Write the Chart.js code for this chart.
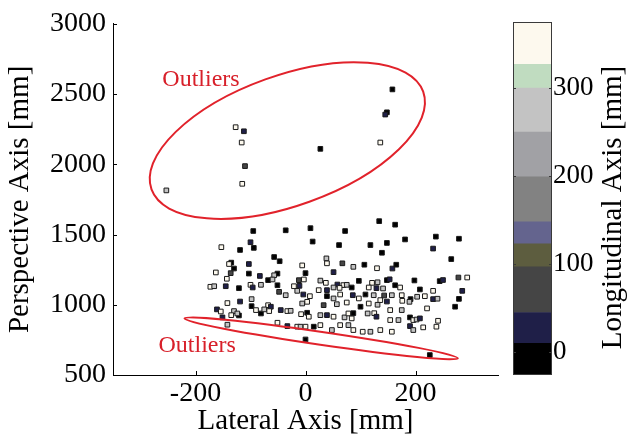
<!DOCTYPE html>
<html>
<head>
<meta charset="utf-8">
<script src="https://cdn.jsdelivr.net/npm/chart.js@4.4.0/dist/chart.umd.min.js"></script>
<style>
  body { margin: 0; background: #fff; }
  #wrap { position: relative; width: 629px; height: 441px; overflow: hidden; }
  #main { position: absolute; left: 0; top: 0; }
  #bar { position: absolute; left: 500px; top: 0; }
</style>
</head>
<body>
<div id="wrap">
  <canvas id="main" width="505" height="441"></canvas>
  <canvas id="bar" width="129" height="441"></canvas>
</div>
<script>
// measured points (lateral x, perspective y, longitudinal z) in mm
const lateral = [
  134, 163, -95, -36, 9, 72, 237, 279, 13, 61, 118, 148, 181, -153, -119, -100, -94, 139, 232, 265,
  -135, -139, -103, -57, -47, 38, 67, 39, 107, 87, 130, 158, 165, -130, -163, -136, -103, -83, -51, -57,
  -6, 0, 51, -143, -68, -60, -12, -3, 27, 37, 58, 69, 75, 97, 121, 131, 148, 153, 198, 244,
  250, 278, 294, -173, -166, -145, -121, -100, -96, -81, -51, -48, -21, -11, -15, 24, 39, 51, 62, 84,
  115, 129, 141, 163, 172, 208, 232, 285, -36, -4, 8, 39, 51, 63, 86, 97, 109, 124, 136, 143,
  157, 175, 191, 203, 217, 232, 240, 279, -142, -119, -98, -98, -68, -63, -6, 3, 33, 57, 75, 100,
  115, 131, 148, 176, 189, 221, 272, -161, -154, -130, -121, -135, -151, -124, -90, -81, -75, -66, -45, -33,
  -27, -8, 3, 6, 27, 39, 51, 71, 78, 87, 84, 113, 125, 129, 154, 175, 154, 169, 190, 196,
  202, 208, 241, -142, -51, -33, -15, -9, 0, 15, 27, 48, 63, 78, 87, 104, 118, 136, 157, 190,
  196, 214, 238, 0, 226,
  -253, -127, -112, -116, -110, -115, 27, 158, 148, 145, 136
];
const perspective = [
  1595, 1570, 1525, 1530, 1545, 1525, 1485, 1470, 1450, 1425, 1425, 1440, 1465, 1410, 1390, 1445, 1405, 1370, 1400, 1325,
  1300, 1290, 1290, 1340, 1310, 1330, 1295, 1295, 1285, 1270, 1260, 1258, 1285, 1258, 1230, 1225, 1222, 1205, 1222, 1210,
  1280, 1225, 1232, 1185, 1175, 1180, 1175, 1180, 1172, 1156, 1144, 1140, 1142, 1170, 1156, 1160, 1175, 1181, 1173, 1168,
  1176, 1194, 1194, 1128, 1132, 1132, 1118, 1142, 1123, 1142, 1139, 1092, 1132, 1135, 1099, 1104, 1104, 1123, 1120, 1123,
  1123, 1118, 1116, 1139, 1123, 1109, 1099, 1099, 1068, 1073, 1061, 1061, 1045, 1073, 1068, 1045, 1073, 1068, 1033, 1066,
  1068, 1068, 1040, 1057, 1061, 1040, 1043, 1042, 1012, 1023, 1040, 990, 997, 986, 1009, 1021, 997, 1004, 1016, 986,
  1009, 1000, 1023, 1028, 1021, 974, 986, 967, 952, 955, 924, 926, 910, 938, 962, 938, 967, 955, 962, 955,
  957, 933, 943, 915, 926, 926, 915, 910, 938, 940, 903, 938, 940, 915, 962, 962, 891, 891, 910, 891,
  895, 903, 886, 858, 872, 848, 844, 844, 844, 844, 855, 820, 855, 855, 820, 808, 808, 820, 808, 848,
  820, 839, 844, 753, 642,
  1814, 2264, 2235, 2155, 1987, 1861, 2110, 2533, 2370, 2354, 2155
];
const longitudinal = [
  5, 5, 5, 5, 5, 5, 5, 5, 5, 5, 5, 5, 5, 350, 5, 30, 5, 5, 30, 5,
  5, 350, 30, 5, 5, 280, 60, 350, 5, 280, 350, 30, 5, 5, 350, 60, 5, 30, 5, 280,
  350, 5, 30, 350, 5, 280, 60, 350, 280, 350, 30, 350, 280, 5, 350, 280, 5, 30, 5, 5,
  30, 60, 350, 350, 280, 30, 5, 350, 30, 280, 5, 60, 350, 30, 280, 350, 30, 280, 350, 5,
  350, 30, 280, 5, 350, 5, 350, 30, 280, 30, 350, 5, 280, 350, 30, 350, 5, 280, 350, 60,
  280, 350, 5, 280, 350, 30, 280, 5, 350, 30, 280, 5, 350, 30, 280, 350, 60, 280, 350, 5,
  350, 280, 30, 350, 280, 350, 5, 30, 350, 280, 5, 350, 30, 280, 350, 5, 280, 350, 30, 350,
  280, 350, 5, 350, 280, 30, 350, 280, 350, 5, 350, 280, 350, 30, 350, 280, 350, 280, 5, 350,
  280, 30, 350, 280, 350, 30, 350, 280, 350, 5, 350, 280, 350, 280, 350, 350, 280, 350, 350, 30,
  280, 350, 350, 5, 5,
  280, 350, 30, 350, 60, 350, 5, 5, 5, 30, 350
];

const xTicks = [-200, 0, 200];
const yTicks = [500, 1000, 1500, 2000, 2500, 3000];
const barTicks = [0, 100, 200, 300];

// colour bar: band edges (mm) and colours from bottom to top
const bandEdges = [-26, 10, 45, 97, 123, 148, 199, 250, 300, 327, 375];
const bandColors = ['#000000', '#1f1f48', '#454545', '#5d5d3f', '#64648e', '#828282', '#a1a1a5', '#c3c3c3', '#c0dcc0', '#fdf9ee'];

// outlier ellipses: ends of the major axis in mm, minor half axis in px
const ellipses = [
  { x1: -280, y1: 1821, x2: 214, y2: 2517, minor: 65, label: 'Outliers', lx: -190, ly: 2602 },
  { x1: -220, y1: 903, x2: 277, y2: 619, minor: 6.5, label: 'Outliers', lx: -197, ly: 706 }
];

const serif = "'Liberation Serif', 'DejaVu Serif', serif";

function colorFor(z) {
  for (let i = 0; i < bandColors.length; i++) {
    if (z < bandEdges[i + 1]) return bandColors[i];
  }
  return bandColors[bandColors.length - 1];
}

const points = lateral.map((x, i) => ({ x: x, y: perspective[i], z: longitudinal[i] }));

// MATLAB style ticks pointing into the plot
const insideTicks = {
  id: 'insideTicks',
  afterDraw(chart) {
    const ctx = chart.ctx;
    const a = chart.chartArea;
    ctx.save();
    ctx.strokeStyle = '#000';
    ctx.lineWidth = 1;
    ctx.beginPath();
    xTicks.forEach(v => {
      const px = Math.round(chart.scales.x.getPixelForValue(v)) + 0.5;
      ctx.moveTo(px, a.bottom);
      ctx.lineTo(px, a.bottom - 4);
    });
    yTicks.forEach(v => {
      const py = Math.round(chart.scales.y.getPixelForValue(v)) + 0.5;
      ctx.moveTo(a.left, py);
      ctx.lineTo(a.left + 4, py);
    });
    ctx.stroke();
    ctx.restore();
  }
};

const outlierRings = {
  id: 'outlierRings',
  afterDatasetsDraw(chart) {
    const ctx = chart.ctx;
    const sx = chart.scales.x, sy = chart.scales.y;
    ctx.save();
    ellipses.forEach(e => {
      const p1x = sx.getPixelForValue(e.x1), p1y = sy.getPixelForValue(e.y1);
      const p2x = sx.getPixelForValue(e.x2), p2y = sy.getPixelForValue(e.y2);
      const cx = (p1x + p2x) / 2, cy = (p1y + p2y) / 2;
      const major = Math.hypot(p2x - p1x, p2y - p1y) / 2;
      const ang = Math.atan2(p2y - p1y, p2x - p1x);
      ctx.beginPath();
      ctx.ellipse(cx, cy, major, e.minor, ang, 0, Math.PI * 2);
      ctx.strokeStyle = '#e1222b';
      ctx.lineWidth = 2;
      ctx.stroke();
      ctx.fillStyle = '#d8202a';
      ctx.font = '24px ' + serif;
      ctx.textAlign = 'center';
      ctx.textBaseline = 'middle';
      ctx.fillText(e.label, sx.getPixelForValue(e.lx), sy.getPixelForValue(e.ly));
    });
    ctx.restore();
  }
};

new Chart(document.getElementById('main'), {
  type: 'scatter',
  data: {
    datasets: [{
      data: points,
      pointStyle: 'rect',
      pointRadius: 3.3,
      borderColor: '#1a1a1a',
      borderWidth: 1,
      backgroundColor: ctx => colorFor(ctx.raw ? ctx.raw.z : 0)
    }]
  },
  options: {
    responsive: false,
    animation: false,
    devicePixelRatio: 1,
    plugins: { legend: { display: false }, tooltip: { enabled: false } },
    layout: { padding: { top: 23, right: 7, left: 0, bottom: 0 } },
    scales: {
      x: {
        type: 'linear',
        min: -350,
        max: 350,
        afterBuildTicks: s => { s.ticks = xTicks.map(v => ({ value: v })); },
        afterFit: s => { s.height = 66; },
        grid: { display: false, drawTicks: false },
        border: { display: true, color: '#000', width: 1 },
        ticks: { font: { family: serif, size: 28 }, color: '#000', padding: 2, maxRotation: 0, callback: v => String(v) },
        title: { display: true, text: 'Lateral Axis [mm]', font: { family: serif, size: 29 }, color: '#000', padding: { top: 0, bottom: 2 } }
      },
      y: {
        type: 'linear',
        min: 500,
        max: 3000,
        afterBuildTicks: s => { s.ticks = yTicks.map(v => ({ value: v })); },
        afterFit: s => { s.width = 113; },
        grid: { display: false, drawTicks: false },
        border: { display: true, color: '#000', width: 1 },
        ticks: { font: { family: serif, size: 28 }, color: '#000', padding: 7, callback: v => String(v) },
        title: { display: true, text: 'Perspective Axis [mm]', font: { family: serif, size: 29 }, color: '#000', padding: { top: 3, bottom: 0 } }
      }
    }
  },
  plugins: [insideTicks, outlierRings]
});

// frame, ticks and title of the colour bar
const barDecor = {
  id: 'barDecor',
  afterDraw(chart) {
    const ctx = chart.ctx;
    const a = chart.chartArea;
    const sy = chart.scales.y;
    ctx.save();
    ctx.strokeStyle = '#3a3a3a';
    ctx.lineWidth = 1;
    ctx.strokeRect(a.left + 0.5, a.top + 0.5, a.right - a.left - 1, a.bottom - a.top - 1);
    ctx.beginPath();
    barTicks.forEach(v => {
      const py = Math.round(sy.getPixelForValue(v)) + 0.5;
      ctx.moveTo(a.left, py); ctx.lineTo(a.left + 3, py);
      ctx.moveTo(a.right, py); ctx.lineTo(a.right - 3, py);
    });
    ctx.stroke();
    ctx.translate(chart.width - 16, (a.top + a.bottom) / 2 + 9);
    ctx.rotate(-Math.PI / 2);
    ctx.fillStyle = '#000';
    ctx.font = '29px ' + serif;
    ctx.textAlign = 'center';
    ctx.textBaseline = 'middle';
    ctx.fillText('Longitudinal Axis [mm]', 0, 0);
    ctx.restore();
  }
};

new Chart(document.getElementById('bar'), {
  type: 'bar',
  data: {
    labels: [''],
    datasets: bandColors.map((c, i) => ({
      data: [[bandEdges[i], bandEdges[i + 1]]],
      backgroundColor: c,
      borderWidth: 0,
      barPercentage: 1,
      categoryPercentage: 1
    }))
  },
  options: {
    responsive: false,
    animation: false,
    devicePixelRatio: 1,
    plugins: { legend: { display: false }, tooltip: { enabled: false } },
    layout: { padding: { left: 13, top: 22, bottom: 66, right: 0 } },
    scales: {
      x: { display: false, stacked: true },
      y: {
        position: 'right',
        min: -26,
        max: 375,
        afterBuildTicks: s => { s.ticks = barTicks.map(v => ({ value: v })); },
        afterFit: s => { s.width = 77; },
        grid: { display: false, drawTicks: false },
        border: { display: false },
        ticks: { font: { family: serif, size: 27 }, color: '#000', padding: 1 }
      }
    }
  },
  plugins: [barDecor]
});
</script>
</body>
</html>
